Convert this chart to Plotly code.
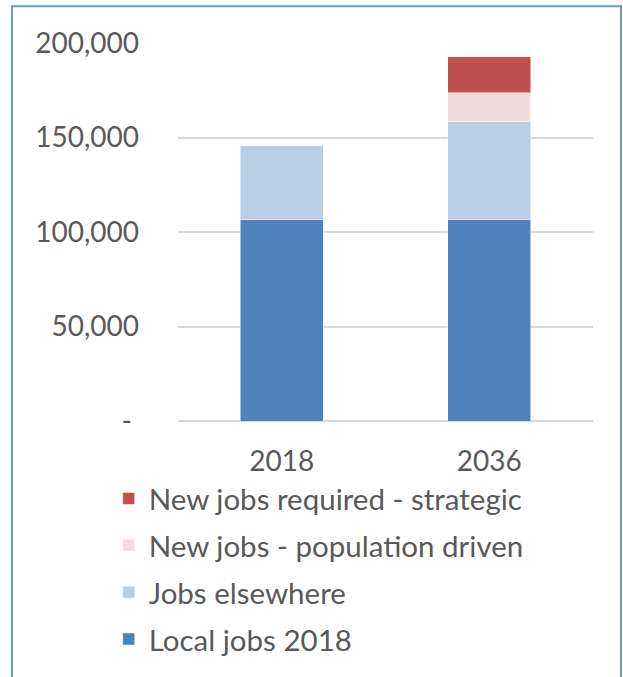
import plotly.graph_objects as go

years = ["2018", "2036"]
local_jobs = [106500, 106500]
jobs_elsewhere = [39500, 51900]
pop_driven = [0, 15300]
strategic = [0, 19000]

series_names = ["Local jobs 2018", "Jobs elsewhere", "New jobs - population driven", "New jobs required - strategic"]
series_values = [local_jobs, jobs_elsewhere, pop_driven, strategic]
series_colors = ["#4F81BD", "#B9CDE5", "#F2DCDB", "#C0504D"]

tick_vals = [0, 50000, 100000, 150000, 200000]
tick_text = ["-\u00a0", "50,000", "100,000", "150,000", "200,000"]

font_family = "Lato, 'Open Sans', sans-serif"
text_color = "#595959"

fig = go.Figure()
n = len(series_names)
for i, (name, vals, col) in enumerate(zip(series_names, series_values, series_colors)):
    fig.add_trace(go.Bar(
        x=years, y=vals, name=name, legendgroup=f"g{i}",
        legendrank=1000 + (n - i),
        marker=dict(color=col, line=dict(color="rgba(255,255,255,0.5)", width=1)),
        width=0.4,
    ))

fig.update_layout(
    width=623, height=677,
    barmode="stack",
    paper_bgcolor="white", plot_bgcolor="white",
    margin=dict(l=178, r=30, t=43, b=254),
    font=dict(family=font_family, color=text_color, size=28),
    showlegend=True,
    legend=dict(
        traceorder="grouped",
        x=-0.167, xanchor="left",
        y=-0.137, yanchor="top",
        font=dict(size=29.5, color=text_color),
        tracegroupgap=5.5,
        bgcolor="rgba(0,0,0,0)",
    ),
    xaxis=dict(
        showgrid=False, showline=False, ticks="",
        tickfont=dict(size=28, color=text_color),
        ticklabelstandoff=21,
    ),
    yaxis=dict(
        range=[0, 200000],
        tickvals=tick_vals, ticktext=tick_text,
        showgrid=True, gridcolor="#D9D9D9", gridwidth=1.5,
        zeroline=True, zerolinecolor="#D9D9D9", zerolinewidth=1.5,
        showline=False, ticks="",
        tickfont=dict(size=28, color=text_color),
        ticklabelstandoff=38,
    ),
    shapes=[dict(
        type="rect", xref="paper", yref="paper",
        x0=(12 - 178) / 415, x1=(621 - 178) / 415,
        y0=(423 - 690) / 380, y1=(423 - 6) / 380,
        line=dict(color="#6E97CF", width=2),
        fillcolor="rgba(0,0,0,0)", layer="below",
    )],
)

fig.write_html("out.html", config={"displayModeBar": False},
               post_script="document.body.style.margin='0';")
